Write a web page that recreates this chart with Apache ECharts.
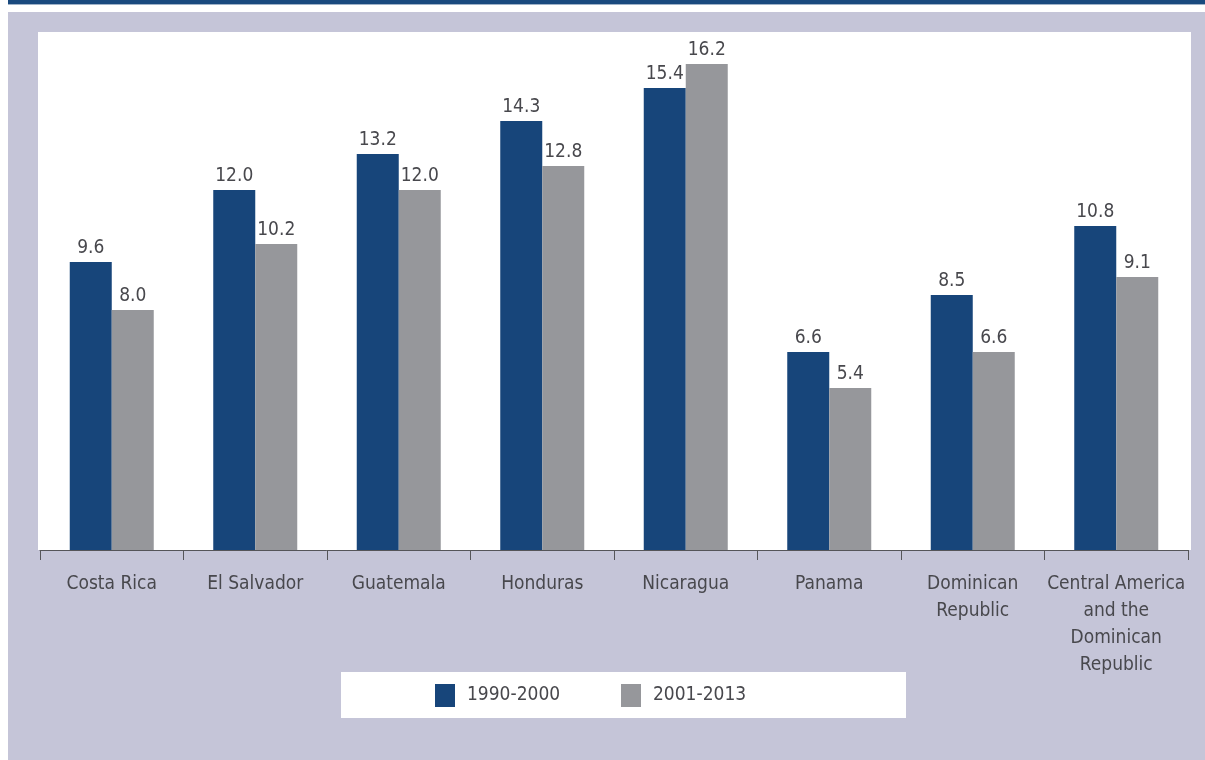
<!DOCTYPE html>
<html>
<head>
<meta charset="utf-8">
<style>
  html, body { margin: 0; padding: 0; background: #ffffff; }
  #chart { width: 1205px; height: 760px; }
</style>
<script src="https://cdn.jsdelivr.net/npm/echarts@6/dist/echarts.min.js"></script>
</head>
<body>
<div id="chart"></div>
<script>
// Countries / regions along the x axis
const categories = [
  'Costa Rica',
  'El Salvador',
  'Guatemala',
  'Honduras',
  'Nicaragua',
  'Panama',
  'Dominican\nRepublic',
  'Central America\nand the\nDominican\nRepublic'
];

// Period names shown in the legend
const periodNames = ['1990-2000', '2001-2013'];

// Values per period
const values1990_2000 = [9.6, 12.0, 13.2, 14.3, 15.4, 6.6, 8.5, 10.8];
const values2001_2013 = [8.0, 10.2, 12.0, 12.8, 16.2, 5.4, 6.6, 9.1];

const FONT = "'Liberation Sans Narrow', 'Arial Narrow', 'DejaVu Sans Condensed', sans-serif";
const TEXT = '#48484d';
const BLUE = '#17457a';
const GRAY = '#96979b';
const LAVENDER = '#c5c5d8';

const chart = echarts.init(document.getElementById('chart'), null, { renderer: 'canvas' });

const labelStyle = {
  show: true,
  position: 'top',
  distance: 4,
  color: TEXT,
  fontFamily: FONT,
  fontSize: 19,
  formatter: p => p.value.toFixed(1)
};

const legendBase = {
  top: 684,
  padding: 0,
  itemWidth: 20,
  itemHeight: 23,
  icon: 'rect',
  textStyle: { color: TEXT, fontFamily: FONT, fontSize: 19, padding: [8, 0, 0, 7] },
  selectedMode: false
};

chart.setOption({
  animation: false,
  backgroundColor: '#ffffff',
  graphic: [
    // top rule
    { type: 'rect', z: -10, shape: { x: 8, y: 0, width: 1197, height: 4 }, style: { fill: '#1a4a7e' } },
    { type: 'rect', z: -10, shape: { x: 8, y: 4, width: 1197, height: 1 }, style: { fill: '#9fb2c8' } },
    // lavender panel
    { type: 'rect', z: -10, shape: { x: 8, y: 12, width: 1197, height: 748 }, style: { fill: LAVENDER } },
    // white plot panel
    { type: 'rect', z: -9, shape: { x: 38, y: 32, width: 1153, height: 518 }, style: { fill: '#ffffff' } },
    // legend box
    { type: 'rect', z: -9, shape: { x: 341, y: 672, width: 565, height: 46 }, style: { fill: '#ffffff' } }
  ],
  grid: { left: 40, right: 17, top: 40, bottom: 210, containLabel: false },
  legend: [
    Object.assign({ left: 435, data: [periodNames[0]] }, legendBase),
    Object.assign({ left: 621, data: [periodNames[1]] }, legendBase)
  ],
  xAxis: {
    type: 'category',
    data: categories,
    axisLine: { show: true, lineStyle: { color: '#555559', width: 1 } },
    axisTick: { show: true, length: 10, alignWithLabel: false, lineStyle: { color: '#555559' } },
    axisLabel: {
      interval: 0,
      color: TEXT,
      fontFamily: FONT,
      fontSize: 19,
      lineHeight: 27,
      margin: 21,
      verticalAlign: 'top'
    }
  },
  yAxis: {
    type: 'value',
    min: 0,
    max: 17,
    show: false,
    splitLine: { show: false }
  },
  series: [
    {
      name: periodNames[0],
      type: 'bar',
      data: values1990_2000,
      barWidth: 42,
      barGap: '0%',
      itemStyle: { color: BLUE },
      label: labelStyle
    },
    {
      name: periodNames[1],
      type: 'bar',
      data: values2001_2013,
      barWidth: 42,
      barGap: '0%',
      itemStyle: { color: GRAY },
      label: labelStyle
    }
  ]
});
</script>
</body>
</html>
